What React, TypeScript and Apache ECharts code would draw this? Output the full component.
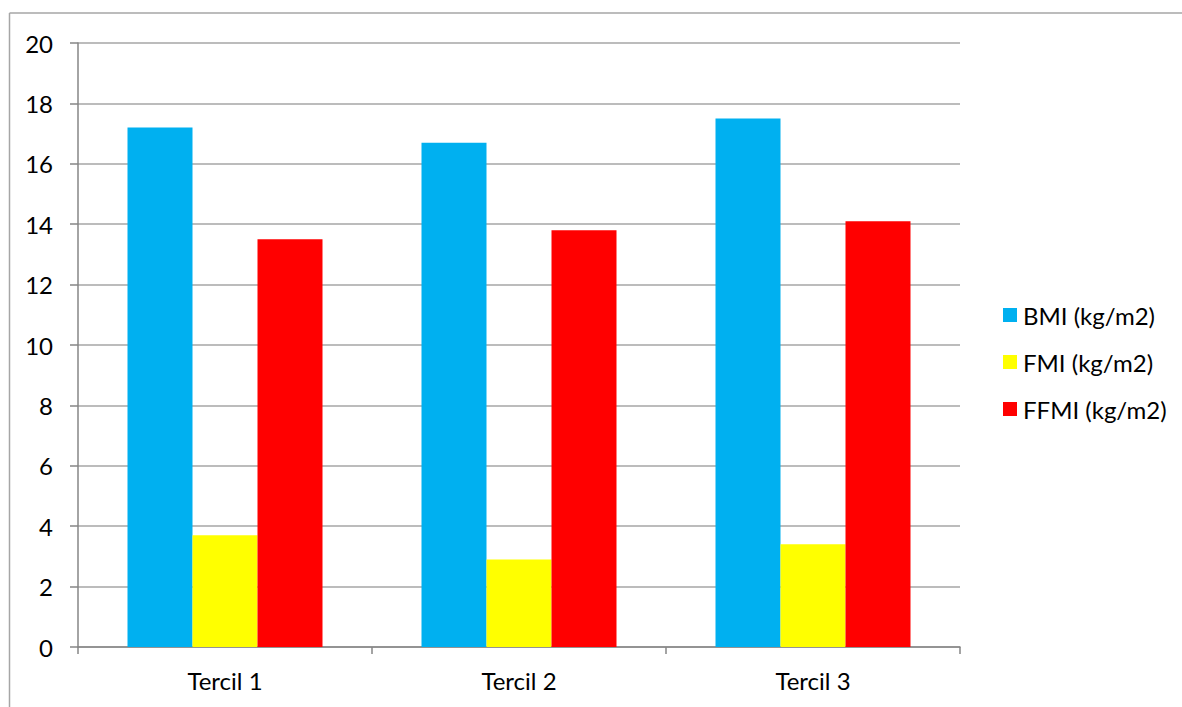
import React, { useEffect, useRef } from "react";
import * as echarts from "echarts";

const categories = ["Tercil 1", "Tercil 2", "Tercil 3"];
const seriesNames = ["BMI (kg/m2)", "FMI (kg/m2)", "FFMI (kg/m2)"];
const bmi = [17.2, 16.7, 17.5];
const fmi = [3.7, 2.9, 3.4];
const ffmi = [13.5, 13.8, 14.1];
const colors = ["#00B0F0", "#FFFF00", "#FF0000"];

const FONT = "Lato, 'Open Sans', sans-serif";
const FONT_SIZE = 24;

export default function App() {
  const ref = useRef<HTMLDivElement>(null);

  useEffect(() => {
    if (!ref.current) return;
    const chart = echarts.init(ref.current, null, { renderer: "svg" });
    const values = [bmi, fmi, ffmi];
    chart.setOption({
      animation: false,
      backgroundColor: "#ffffff",
      textStyle: { fontFamily: FONT },
      grid: { left: 78, top: 43, right: 222, bottom: 60, containLabel: false },
      graphic: [
        {
          type: "line",
          shape: { x1: 9.5, y1: 13, x2: 1182, y2: 13 },
          style: { stroke: "#a6a6a6", lineWidth: 1.5 },
          silent: true,
        },
        {
          type: "line",
          shape: { x1: 9.5, y1: 13, x2: 9.5, y2: 707 },
          style: { stroke: "#a6a6a6", lineWidth: 1.5 },
          silent: true,
        },
      ],
      legend: {
        orient: "vertical",
        left: 998,
        top: 298,
        icon: "rect",
        itemWidth: 14,
        itemHeight: 14,
        itemGap: 23,
        data: seriesNames,
        textStyle: {
          fontFamily: FONT,
          fontSize: FONT_SIZE,
          color: "#000",
          lineHeight: 24,
          padding: [0, 0, 0, 1],
        },
      },
      xAxis: {
        type: "category",
        data: categories,
        boundaryGap: true,
        axisLine: { lineStyle: { color: "#868686", width: 1.5 } },
        axisTick: { show: true, length: 7, alignWithLabel: false, lineStyle: { color: "#868686", width: 1.5 } },
        axisLabel: { color: "#000", fontSize: FONT_SIZE, fontFamily: FONT, margin: 21 },
        splitLine: { show: false },
      },
      yAxis: {
        type: "value",
        min: 0,
        max: 20,
        interval: 2,
        axisLine: { show: true, lineStyle: { color: "#868686", width: 1.5 } },
        axisTick: { show: true, length: 8, lineStyle: { color: "#868686", width: 1.5 } },
        axisLabel: { color: "#000", fontSize: FONT_SIZE, fontFamily: FONT, margin: 25 },
        splitLine: { show: true, lineStyle: { color: "#a6a6a6", width: 1.5 } },
      },
      series: seriesNames.map((name, i) => ({
        name,
        type: "bar",
        data: values[i],
        barWidth: 65,
        barGap: "0%",
        itemStyle: { color: colors[i] },
      })),
    });
    return () => chart.dispose();
  }, []);

  return (
    <div
      ref={ref}
      style={{ position: "fixed", left: 0, top: 0, width: 1182, height: 707 }}
    />
  );
}
